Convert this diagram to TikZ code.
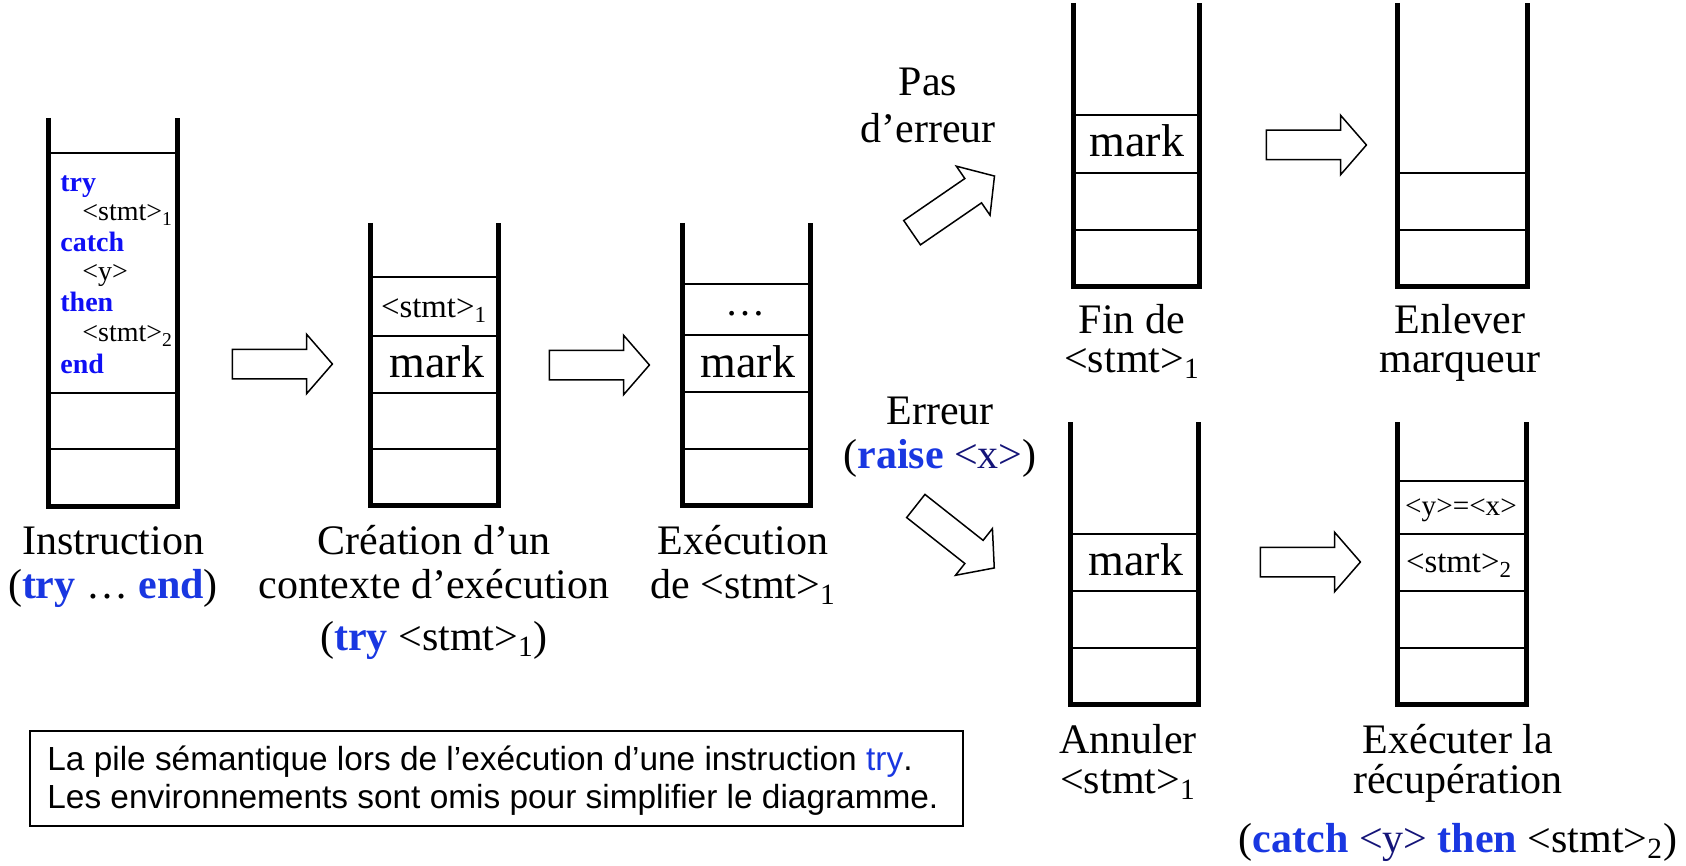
\documentclass[tikz,border=0pt]{standalone}
\usepackage{fontspec}
\setmainfont{Liberation Serif}
\newfontfamily\capfont{Liberation Sans}
\usetikzlibrary{shapes.arrows}
\definecolor{kwblue}{RGB}{25,55,225}
\definecolor{kwbright}{RGB}{15,15,245}
\definecolor{navy}{RGB}{20,20,120}
\newcommand{\kw}[1]{\textbf{\textcolor{kwblue}{#1}}}
\newcommand{\kwb}[1]{\textbf{\textcolor{kwbright}{#1}}}
\newcommand{\stm}[1]{<stmt>\textsubscript{#1}}
\tikzset{
  wall/.style={line width=2.5pt},
  cell/.style={line width=0.9pt},
  blk/.style={draw,line width=0.75pt,single arrow,single arrow head extend=7.5pt,
    single arrow tip angle=98,minimum height=50pt,inner xsep=0pt,inner ysep=7pt},
  lbl/.style={font=\fontsize{21}{25}\selectfont,anchor=base,inner sep=0pt},
  mk/.style={font=\fontsize{23}{27}\selectfont,anchor=base,inner sep=0pt},
  cel/.style={font=\fontsize{16.4}{19}\selectfont,anchor=base,inner sep=0pt},
  cod/.style={font=\fontsize{14}{16}\selectfont,anchor=base west,inner sep=0pt},
}
\begin{document}
\begin{tikzpicture}[x=0.5pt,y=-0.5pt]
       \useasboundingbox(0,0)rectangle(1686,866);%全体

       \foreach \l/\r/\t/\b in{48/177/118/506,370/498/223/505,682/810/223/505,
           1073/1199/3/287,1397/1527/3/287,1070/1198/422/704,1397/1526/422/704}
           \draw[wall](\l,\t)--(\l,\b)--(\r,\b)--(\r,\t);%スタックの壁

       \foreach \l/\r/\ys in{48/177/{153,393,449},370/498/{277,336,393,449},
           682/810/{284,335,392,449},1073/1199/{115,173,230},1397/1527/{173,230},
           1070/1198/{534,591,648},1397/1526/{481,534,591,648}}
           \foreach \y in \ys
               \draw[cell](\l,\y)--(\r,\y);%セルの区切り

       \node[cod](C1)at(60,192){\kwb{try}};%スタック1の中身
       \node[cod](C2)at(82,221){\stm{1}};
       \node[cod](C3)at(60,252){\kwb{catch}};
       \node[cod](C4)at(82,280){<y>};
       \node[cod](C5)at(60,312){\kwb{then}};
       \node[cod](C6)at(82,342){\stm{2}};
       \node[cod](C7)at(60,373){\kwb{end}};

       \node[cel](S2)at(434,317){\stm{1}};%スタック2
       \node[mk](M2)at(437,377){mark};
       \node[cel,font=\fontsize{20}{24}\selectfont](S3)at(745,315){\ldots};%スタック3
       \node[mk](M3)at(748,377){mark};
       \node[mk](M4)at(1137,157){mark};%スタック4
       \node[mk](M6)at(1136,575){mark};%スタック6
       \node[cel,font=\fontsize{14.6}{17}\selectfont](S7a)at(1461,515){<y>=<x>};%スタック7
       \node[cel](S7b)at(1459,572){\stm{2}};

       \node[blk](A1)at(276,364){};%矢印
       \node[blk](A2)at(593,365){};
       \node[blk](A3)at(1310,145){};
       \node[blk](A4)at(1304,562){};
       \node[blk,rotate=34.5](AU)at(948,208){};
       \node[blk,rotate=-38.3](AD)at(950,533){};

       \node[lbl](L1a)at(113,554){Instruction};%ラベル
       \node[lbl](L1b)at(113,598){(\kw{try} \ldots\ \kw{end})};
       \node[lbl](L2a)at(434,554){Création d’un};
       \node[lbl](L2b)at(434,598){contexte d’exécution};
       \node[lbl](L2c)at(434,650){(\kw{try} \stm{1})};
       \node[lbl](L3a)at(743,554){Exécution};
       \node[lbl](L3b)at(743,598){de \stm{1}};
       \node[lbl](L4a)at(1132,333){Fin de};
       \node[lbl](L4b)at(1132,372){\stm{1}};
       \node[lbl](L5a)at(1460,333){Enlever};
       \node[lbl](L5b)at(1460,372){marqueur};
       \node[lbl](L6a)at(1128,753){Annuler};
       \node[lbl](L6b)at(1128,793){\stm{1}};
       \node[lbl](L7a)at(1458,753){Exécuter la};
       \node[lbl](L7b)at(1458,793){récupération};
       \node[lbl](L7c)at(1458,852){(\kw{catch} \textcolor{navy}{<y>} \kw{then} \stm{2})};
       \node[lbl](P1)at(928,96){Pas};
       \node[lbl](P2)at(928,143){d’erreur};
       \node[lbl](E1)at(940,424){Erreur};
       \node[lbl](E2)at(940,468){(\kw{raise} \textcolor{navy}{<x>})};

       \draw[line width=0.75pt](30,731)rectangle(963,826);%説明の枠
       \node[anchor=base west,inner sep=0pt,font=\capfont\fontsize{16.7}{20}\selectfont](T1)
           at(47,770){La pile sémantique lors de l’exécution d’une instruction \textcolor{kwblue}{try}.};
       \node[anchor=base west,inner sep=0pt,font=\capfont\fontsize{16.7}{20}\selectfont](T2)
           at(47,808){Les environnements sont omis pour simplifier le diagramme.};
\end{tikzpicture}
\end{document}
